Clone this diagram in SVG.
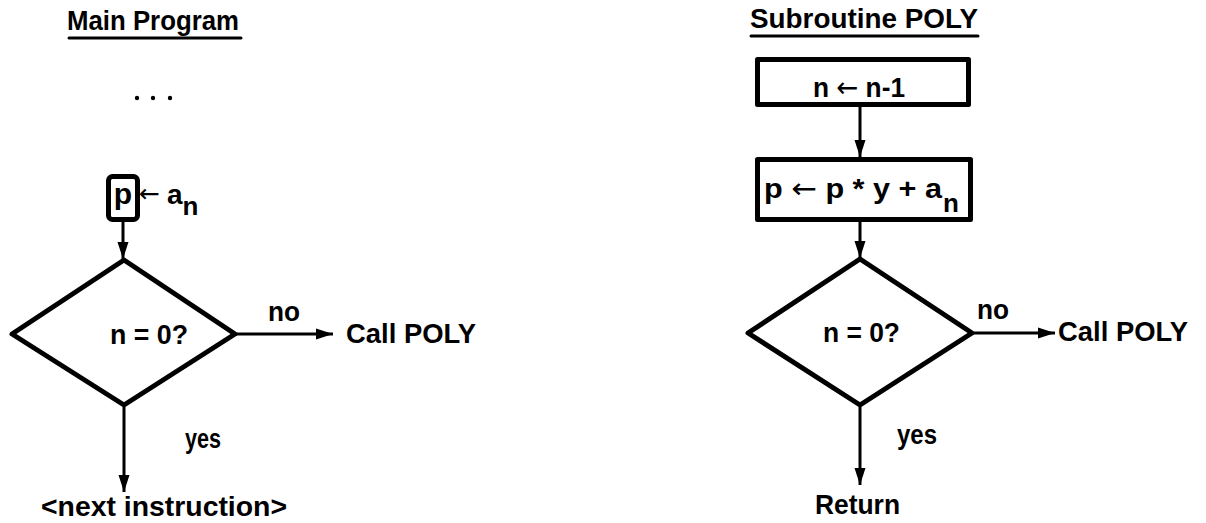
<svg xmlns="http://www.w3.org/2000/svg" width="1206" height="523" viewBox="0 0 1206 523">
  <style>
    text { font-family: "Liberation Sans", Arial, sans-serif; font-weight: bold; fill: #000; }
    .lbl { font-size: 28px; }
    .sub { font-size: 26px; }
    .title { font-size: 27px; }
    .arr { font-family: "DejaVu Sans", sans-serif; font-weight: normal; }
    .shape { fill: none; stroke: #000; stroke-width: 5; stroke-linejoin: round; }
    .conn { fill: none; stroke: #000; stroke-width: 3; }
    .ul { stroke: #000; stroke-width: 3; stroke-linecap: round; }
  </style>
  <defs>
    <marker id="arrow" markerUnits="userSpaceOnUse" markerWidth="18" markerHeight="12" refX="17" refY="6" orient="auto">
      <path d="M0,0.5 L17,6 L0,11.5 z" fill="#000"/>
    </marker>
  </defs>
  <rect width="1206" height="523" fill="#fff"/>

  <!-- Main Program -->
  <g id="title-main">
    <text class="title" x="67" y="30" textLength="172" lengthAdjust="spacingAndGlyphs">Main Program</text>
    <line class="ul" x1="69" y1="38" x2="241" y2="38"/>
  </g>
  <g id="ellipsis">
    <circle cx="137" cy="98" r="2.2" fill="#000"/>
    <circle cx="153" cy="98" r="2.2" fill="#000"/>
    <circle cx="170" cy="98" r="2.2" fill="#000"/>
  </g>
  <g id="main-assign">
    <rect class="shape" x="108.5" y="176.5" width="29" height="43" rx="4"/>
    <text class="lbl" x="123" y="204" text-anchor="middle" style="font-size:30px">p</text>
    <text class="arr" x="139" y="202" style="font-size:25px">←</text>
    <text class="lbl" x="167" y="204">a<tspan class="sub" dy="11">n</tspan></text>
  </g>
  <g id="main-decision">
    <polygon class="shape" points="12,334 124,260 235,334 124,405"/>
    <text class="lbl" x="110" y="344" textLength="78" lengthAdjust="spacingAndGlyphs">n = 0?</text>
  </g>
  <g id="main-call">
    <text class="lbl" x="346" y="343" textLength="130" lengthAdjust="spacingAndGlyphs">Call POLY</text>
  </g>
  <g id="main-next">
    <text class="lbl" x="41" y="516" textLength="246" lengthAdjust="spacingAndGlyphs">&lt;next instruction&gt;</text>
  </g>

  <!-- Subroutine POLY -->
  <g id="title-sub">
    <text class="title" x="750" y="28" textLength="228" lengthAdjust="spacingAndGlyphs">Subroutine POLY</text>
    <line class="ul" x1="751" y1="36" x2="978" y2="36"/>
  </g>
  <g id="sub-dec-n">
    <rect class="shape" x="757.5" y="59.5" width="211" height="45"/>
    <text class="lbl" x="813" y="97" textLength="92" lengthAdjust="spacingAndGlyphs">n <tspan class="arr">←</tspan> n-1</text>
  </g>
  <g id="sub-update-p">
    <rect class="shape" x="757.5" y="159.5" width="213" height="60"/>
    <text class="lbl" x="764" y="198" textLength="178" lengthAdjust="spacingAndGlyphs">p <tspan class="arr">←</tspan> p * y + a</text>
    <text class="sub" x="943" y="212">n</text>
  </g>
  <g id="sub-decision">
    <polygon class="shape" points="748,333 860,259 972,333 860,405"/>
    <text class="lbl" x="823" y="342" textLength="77" lengthAdjust="spacingAndGlyphs">n = 0?</text>
  </g>
  <g id="sub-call">
    <text class="lbl" x="1058" y="341" textLength="130" lengthAdjust="spacingAndGlyphs">Call POLY</text>
  </g>
  <g id="sub-return">
    <text class="lbl" x="815" y="514" textLength="85" lengthAdjust="spacingAndGlyphs">Return</text>
  </g>

  <!-- Connectors -->
  <g id="connectors">
    <line class="conn" x1="123" y1="222" x2="123" y2="259" marker-end="url(#arrow)"/>
    <line class="conn" x1="237" y1="334" x2="333" y2="334" marker-end="url(#arrow)"/>
    <text class="lbl" x="268" y="321" textLength="32" lengthAdjust="spacingAndGlyphs">no</text>
    <line class="conn" x1="124" y1="407" x2="124" y2="492" marker-end="url(#arrow)"/>
    <text class="lbl" x="185" y="448" textLength="36" lengthAdjust="spacingAndGlyphs">yes</text>

    <line class="conn" x1="860" y1="107" x2="860" y2="157" marker-end="url(#arrow)"/>
    <line class="conn" x1="860" y1="222" x2="860" y2="258" marker-end="url(#arrow)"/>
    <line class="conn" x1="974" y1="333" x2="1055" y2="333" marker-end="url(#arrow)"/>
    <text class="lbl" x="977" y="319" textLength="32" lengthAdjust="spacingAndGlyphs">no</text>
    <line class="conn" x1="860" y1="407" x2="860" y2="485" marker-end="url(#arrow)"/>
    <text class="lbl" x="897" y="444" textLength="40" lengthAdjust="spacingAndGlyphs">yes</text>
  </g>
</svg>
